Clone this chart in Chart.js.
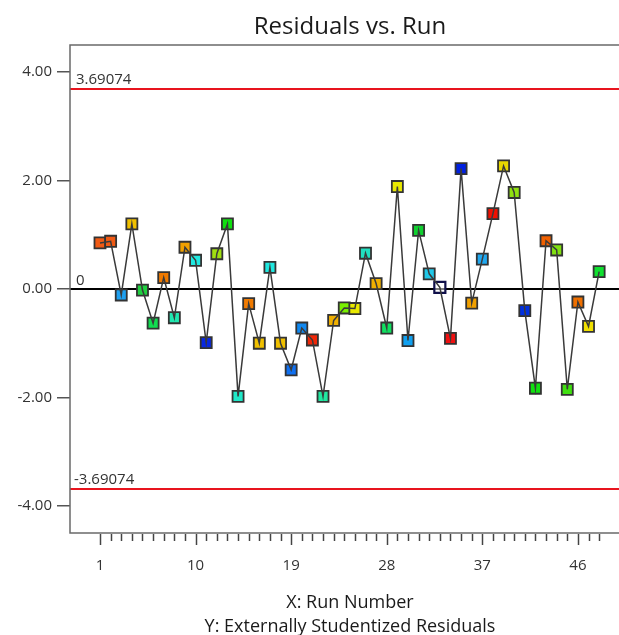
<!DOCTYPE html>
<html lang="en">
<head>
  <meta charset="UTF-8" />
  <title>Residuals vs. Run</title>
  <script src="https://cdn.jsdelivr.net/npm/chart.js"></script>
  <style>
    html, body { margin: 0; padding: 0; background: #fff; }
    #wrap { width: 619px; height: 635px; }
  </style>
</head>
<body>
  <div id="wrap"><canvas id="chart" width="619" height="635"></canvas></div>

  <script>
    // run number and externally studentized residual
    const runs = [
      1, 2, 3, 4, 5, 6, 7, 8, 9, 10, 11, 12, 13, 14, 15, 16,
      17, 18, 19, 20, 21, 22, 23, 24, 25, 26, 27, 28, 29, 30, 31, 32,
      33, 34, 35, 36, 37, 38, 39, 40, 41, 42, 43, 44, 45, 46, 47, 48
    ];
    const residuals = [
      0.85, 0.88, -0.11, 1.20, -0.02, -0.63, 0.21, -0.53, 0.77, 0.53, -0.99, 0.65, 1.20, -1.98, -0.27, -1.00,
      0.40, -1.00, -1.49, -0.72, -0.94, -1.98, -0.58, -0.35, -0.36, 0.66, 0.10, -0.72, 1.89, -0.95, 1.08, 0.28,
      0.03, -0.91, 2.22, -0.26, 0.55, 1.39, 2.27, 1.78, -0.40, -1.83, 0.89, 0.72, -1.85, -0.24, -0.69, 0.32
    ];
    const pointColors = [
      '#f05a14', '#f05a14', '#1ea0f0', '#f0c000', '#20d040', '#10dc50', '#f07a00', '#20e8b0', '#f0a000', '#20e8e0', '#0828e0', '#a0e010', '#10e010', '#20e8c8', '#f07a00', '#f0c000',
      '#20e8e0', '#f0c000', '#1070f0', '#1088f0', '#f02808', '#20e8a0', '#f0b000', '#78f000', '#e8e800', '#20e0c0', '#f0b000', '#10e060', '#e8e800', '#10a0f0', '#10d030', '#20c8e8',
      'rgba(255,255,255,0.5)', '#f01010', '#0020e0', '#f0a000', '#20a8f0', '#f01000', '#e8d800', '#90e010', '#0030e0', '#10e010', '#f06000', '#80e010', '#40e010', '#f07000', '#f0e000', '#10e030'
    ];
    const pointBorders = runs.map(r => r === 33 ? '#10104a' : '#333');
    const xLabelTicks = [1, 10, 19, 28, 37, 46];
    const yTicks = [-4, -2, 0, 2, 4];
    const limit = 3.69074;
    const limitLabels = ['3.69074', '-3.69074'];

    const points = runs.map((r, i) => ({ x: r, y: residuals[i] }));
    const FONT = "'Open Sans', 'Noto Sans', sans-serif";

    const decorations = {
      id: 'decorations',
      beforeDatasetsDraw(chart) {
        const { ctx, chartArea, scales } = chart;
        const y = scales.y;
        ctx.save();
        // control limits
        ctx.strokeStyle = '#e8141e';
        ctx.lineWidth = 2;
        [limit, -limit].forEach(v => {
          const py = Math.round(y.getPixelForValue(v));
          ctx.beginPath();
          ctx.moveTo(chartArea.left, py);
          ctx.lineTo(chartArea.right, py);
          ctx.stroke();
        });
        // zero line
        const zy = Math.round(y.getPixelForValue(0));
        ctx.strokeStyle = '#000';
        ctx.lineWidth = 2;
        ctx.beginPath();
        ctx.moveTo(chartArea.left, zy);
        ctx.lineTo(chartArea.right, zy);
        ctx.stroke();
        // labels
        ctx.fillStyle = '#333';
        ctx.font = '15px ' + FONT;
        ctx.textAlign = 'left';
        ctx.textBaseline = 'alphabetic';
        ctx.fillText(limitLabels[0], chartArea.left + 6, y.getPixelForValue(limit) - 5);
        ctx.fillText(limitLabels[1], chartArea.left + 4, y.getPixelForValue(-limit) - 5);
        ctx.fillText('0', chartArea.left + 6, zy - 4);
        ctx.restore();
      },
      afterDraw(chart) {
        const { ctx, chartArea, scales } = chart;
        const x = scales.x;
        ctx.save();
        // frame (right side is off the picture)
        ctx.strokeStyle = '#6a6a6a';
        ctx.lineWidth = 1.5;
        ctx.beginPath();
        ctx.moveTo(chartArea.right + 2, chartArea.top);
        ctx.lineTo(chartArea.left, chartArea.top);
        ctx.lineTo(chartArea.left, chartArea.bottom);
        ctx.lineTo(chartArea.right + 2, chartArea.bottom);
        ctx.stroke();
        // x tick marks: minor each run, major at labelled runs
        ctx.strokeStyle = '#444';
        ctx.lineWidth = 1.5;
        runs.forEach(r => {
          const px = Math.round(x.getPixelForValue(r)) + 0.5;
          const len = xLabelTicks.includes(r) ? 11 : 7;
          ctx.beginPath();
          ctx.moveTo(px, chartArea.bottom + 1);
          ctx.lineTo(px, chartArea.bottom + 1 + len);
          ctx.stroke();
        });
        // titles
        const cx = 350;
        ctx.fillStyle = '#1a1a1a';
        ctx.textAlign = 'center';
        ctx.textBaseline = 'alphabetic';
        ctx.font = '24px ' + FONT;
        ctx.fillText('Residuals vs. Run', cx, 34);
        ctx.font = '18px ' + FONT;
        ctx.fillText('X: Run Number', cx, 608);
        ctx.fillText('Y: Externally Studentized Residuals', cx, 632);
        ctx.restore();
      }
    };

    new Chart(document.getElementById('chart'), {
      type: 'line',
      data: {
        datasets: [
          {
            data: points,
            borderColor: '#3a3a3a',
            borderWidth: 1.5,
            pointRadius: 0,
            tension: 0,
            order: 0
          },
          {
            type: 'scatter',
            data: points,
            showLine: false,
            pointStyle: 'rect',
            pointRadius: 7.8,
            pointBackgroundColor: pointColors,
            pointBorderColor: pointBorders,
            pointBorderWidth: ctx => ctx.dataIndex === 32 ? 2.2 : 1.8,
            order: 1
          }
        ]
      },
      options: {
        responsive: false,
        animation: false,
        layout: { autoPadding: false, padding: { top: 45, left: 0, right: 0, bottom: 0 } },
        plugins: {
          legend: { display: false },
          tooltip: { enabled: false },
          title: { display: false }
        },
        scales: {
          x: {
            type: 'linear',
            min: -1.825,
            max: 49.87,
            afterFit: s => { s.height = 102; },
            afterBuildTicks: s => { s.ticks = xLabelTicks.map(v => ({ value: v })); },
            grid: { display: false },
            border: { display: false },
            ticks: {
              padding: 16,
              color: '#333',
              font: { family: FONT, size: 15 },
              maxRotation: 0,
              callback: v => String(v)
            }
          },
          y: {
            min: -4.5,
            max: 4.5,
            afterFit: s => { s.width = 70; },
            afterBuildTicks: s => { s.ticks = yTicks.map(v => ({ value: v })); },
            grid: { drawOnChartArea: false, drawTicks: true, tickLength: 13, color: '#555', lineWidth: 1.5 },
            border: { display: false },
            ticks: {
              padding: 5,
              color: '#333',
              font: { family: FONT, size: 15 },
              callback: v => v.toFixed(2)
            }
          }
        }
      },
      plugins: [decorations]
    });
  </script>
</body>
</html>
